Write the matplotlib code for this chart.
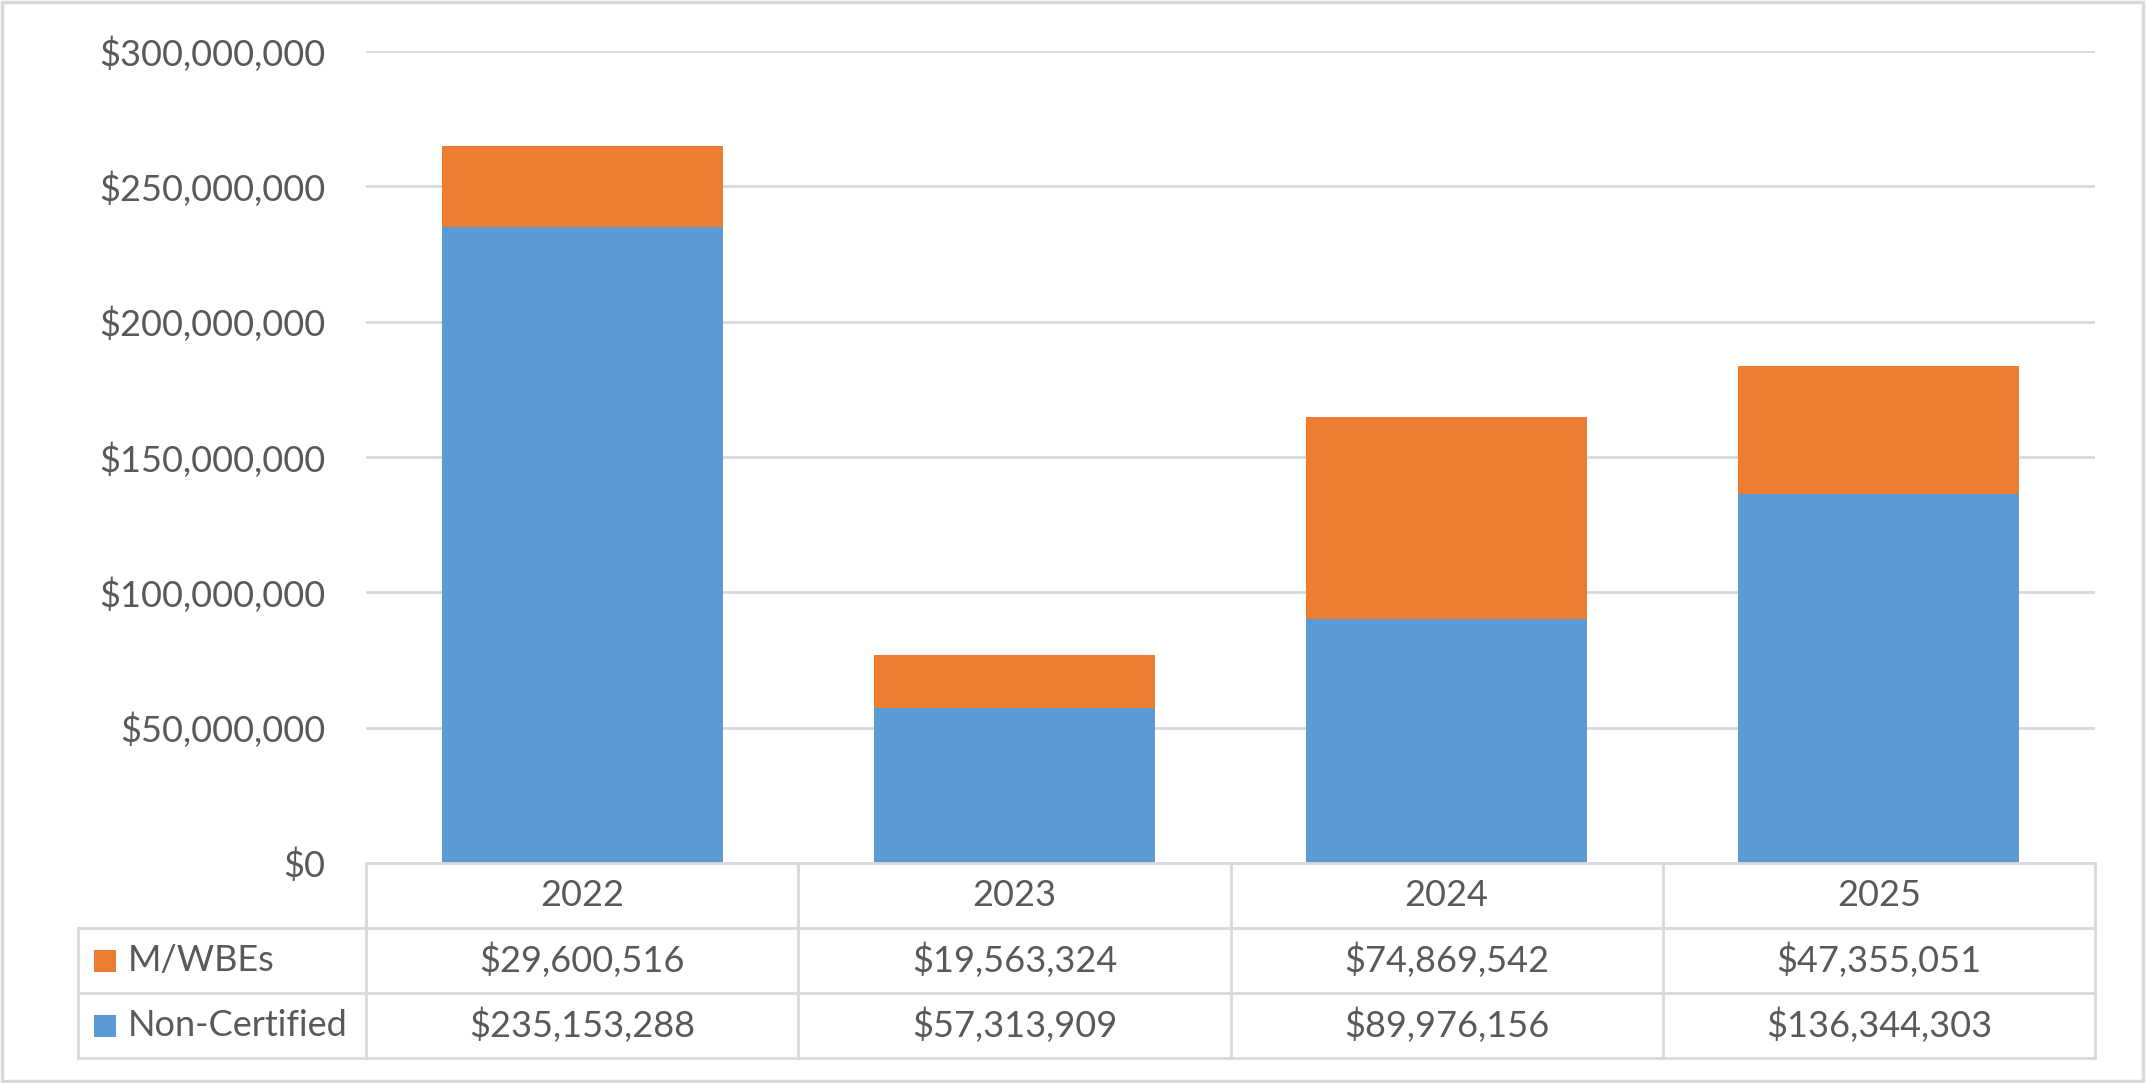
import numpy as np
import matplotlib
matplotlib.use('Agg')
import matplotlib.pyplot as plt
from matplotlib.patches import Rectangle
from matplotlib.ticker import FuncFormatter
import matplotlib.transforms as mtransforms

plt.rcParams['font.family'] = ['Lato', 'DejaVu Sans']

# data
years = ['2022', '2023', '2024', '2025']
mwbe = [29600516, 19563324, 74869542, 47355051]
non_certified = [235153288, 57313909, 89976156, 136344303]
series_names = ['M/WBEs', 'Non-Certified']

c_orange = '#ED7D31'
c_blue = '#5B9BD5'
c_text = '#595959'
c_line = '#D9D9D9'
fs = 26

fig = plt.figure(figsize=(21.47, 10.83), dpi=100)
ax = fig.add_axes([366/2147, 1 - 863/1083, (2095 - 366)/2147, (863 - 51)/1083])

x = np.arange(len(years))
ax.bar(x, non_certified, width=0.65, color=c_blue, zorder=3)
ax.bar(x, mwbe, width=0.65, bottom=non_certified, color=c_orange, zorder=3)

ax.set_xlim(-0.5, 3.5)
ax.set_ylim(0, 300000000)
ax.set_yticks(np.arange(0, 300000001, 50000000))
ax.yaxis.set_major_formatter(FuncFormatter(lambda v, p: f'${v:,.0f}'))
ax.tick_params(axis='y', length=0, pad=29, labelsize=fs, labelcolor=c_text)
ax.set_xticks([])
ax.grid(axis='y', color=c_line, linewidth=2, zorder=0)
for s in ax.spines.values():
    s.set_visible(False)

# data table under the chart
trans = mtransforms.blended_transform_factory(ax.transData, ax.transAxes)
row_h = 65 / 812
left_x = -0.5 - (366 - 78) / ((2095 - 366) / 4)
lw = 2

def hline(x0, x1, y):
    ax.plot([x0, x1], [y, y], color=c_line, lw=lw, transform=trans, clip_on=False, zorder=4)

def vline(xv, y0, y1):
    ax.plot([xv, xv], [y0, y1], color=c_line, lw=lw, transform=trans, clip_on=False, zorder=4)

hline(-0.5, 3.5, 0)
for k in range(1, 4):
    hline(left_x, 3.5, -k * row_h)
for b in np.arange(-0.5, 3.6, 1.0):
    vline(b, 0, -3 * row_h)
vline(left_x, -row_h, -3 * row_h)

for i, yr in enumerate(years):
    ax.text(i, -0.5 * row_h, yr, ha='center', va='center', fontsize=fs, color=c_text,
            transform=trans, clip_on=False)
    ax.text(i, -1.5 * row_h, f'${mwbe[i]:,}', ha='center', va='center', fontsize=fs,
            color=c_text, transform=trans, clip_on=False)
    ax.text(i, -2.5 * row_h, f'${non_certified[i]:,}', ha='center', va='center', fontsize=fs,
            color=c_text, transform=trans, clip_on=False)

# legend keys in the label column
fig_tr = fig.transFigure
for k, (name, col) in enumerate(zip(series_names, [c_orange, c_blue])):
    yc = 863 + 65 * (k + 1) + 32.5
    fig.patches.append(Rectangle((94 / 2147, 1 - (yc + 11) / 1083), 22 / 2147, 22 / 1083,
                                 facecolor=col, edgecolor='none', transform=fig_tr))
    fig.text(128 / 2147, 1 - yc / 1083, name, ha='left', va='center', fontsize=fs, color=c_text)

# outer chart border
fig.patches.append(Rectangle((0.001, 0.002), 0.997, 0.996, fill=False, edgecolor=c_line,
                             linewidth=2.5, transform=fig_tr))

fig.savefig('out.png', dpi=100)
